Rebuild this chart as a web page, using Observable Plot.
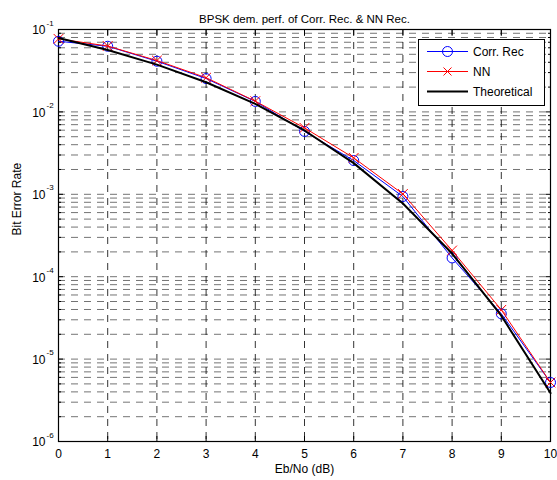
<!DOCTYPE html>
<html>
<head>
<meta charset="utf-8">
<script src="https://cdn.jsdelivr.net/npm/d3@7"></script>
<script src="https://cdn.jsdelivr.net/npm/@observablehq/plot@0.6"></script>
<style>
  html, body { margin: 0; padding: 0; background: #fff; }
  #wrap { position: relative; width: 557px; height: 480px; }
  #legend { position: absolute; left: 0; top: 0; pointer-events: none; }
</style>
</head>
<body>
<div id="wrap"></div>
<script>
// ---- data ----
const ebno = [0, 1, 2, 3, 4, 5, 6, 7, 8, 9, 10];
const berCorr = [0.072, 0.0626, 0.0412, 0.0254, 0.0134, 0.0058, 0.00257, 0.00094, 0.000169, 0.0000355, 0.0000052];
const berNN = [0.077, 0.063, 0.042, 0.026, 0.0135, 0.0064, 0.00277, 0.00101, 0.000208, 0.0000396, 0.0000052];
const berTheory = [0.079, 0.0563, 0.0375, 0.0229, 0.0125, 0.00595, 0.00239, 0.000773, 0.000191, 0.0000336, 0.00000387];
const xTicks = [0, 1, 2, 3, 4, 5, 6, 7, 8, 9, 10];
const yMajor = [1e-1, 1e-2, 1e-3, 1e-4, 1e-5, 1e-6];
const seriesNames = ["Corr. Rec", "NN", "Theoretical"];
const seriesColors = ["#0000ff", "#ff0000", "#000000"];
const titleText = "BPSK dem. perf. of Corr. Rec. & NN Rec.";
const xLabel = "Eb/No (dB)";
const yLabel = "Bit Error Rate";

const rows = (ys) => ebno.map((x, i) => ({x, y: ys[i]}));
const corr = rows(berCorr), nn = rows(berNN), theory = rows(berTheory);

const yAll = d3.scaleLog().domain([1e-6, 1e-1]).ticks();   // 1..9 x each decade
const yMinor = yAll.filter(v => !yMajor.some(m => Math.abs(m - v) / m < 1e-9));
const yGrid = yAll.filter(v => v > 1.0001e-6 && v < 0.0999);
const xGrid = xTicks.slice(1, -1);

const dash = "7,6";
const font = "'Liberation Sans', Arial, Helvetica, sans-serif";

const chart = Plot.plot({
  width: 557,
  height: 480,
  marginLeft: 58,
  marginRight: 7,
  marginTop: 29,
  marginBottom: 39,
  style: {fontFamily: font, fontSize: "12px", background: "#fff", color: "#000"},
  x: {domain: [0, 10], ticks: xTicks, label: null},
  y: {type: "log", domain: [1e-6, 1e-1], label: null},
  marks: [
    // grid
    Plot.ruleY(yGrid, {stroke: "#000", strokeOpacity: 0.55, strokeDasharray: dash}),
    Plot.ruleX(xGrid, {stroke: "#000", strokeOpacity: 0.8, strokeDasharray: dash}),
    // inward ticks (MATLAB style) on all four sides
    Plot.axisX(xTicks, {anchor: "bottom", tickSize: 5, inset: 5, tickFormat: null, text: null, label: null}),
    Plot.axisX(xTicks, {anchor: "top", tickSize: 5, inset: 5, tickFormat: null, text: null, label: null}),
    Plot.axisY(yMajor, {anchor: "left", tickSize: 5, inset: 5, text: null, label: null}),
    Plot.axisY(yMajor, {anchor: "right", tickSize: 5, inset: 5, text: null, label: null}),
    Plot.axisY(yMinor, {anchor: "left", tickSize: 3, inset: 3, text: null, label: null}),
    Plot.axisY(yMinor, {anchor: "right", tickSize: 3, inset: 3, text: null, label: null}),
    // x tick labels
    Plot.axisX(xTicks, {anchor: "bottom", tickSize: 0, tickPadding: 8, fontSize: 12, label: null}),
    // y tick labels 10^n
    Plot.text(yMajor, {y: d => d, frameAnchor: "left", dx: -13, dy: 1, textAnchor: "end", text: () => "10", fontSize: 12}),
    Plot.text(yMajor, {y: d => d, frameAnchor: "left", dx: -12, dy: -6.5, textAnchor: "start", text: d => String(Math.round(Math.log10(d))), fontSize: 8}),
    // frame
    Plot.frame({stroke: "#000", strokeWidth: 1.2}),
    // series
    Plot.line(corr, {x: "x", y: "y", stroke: seriesColors[0], strokeWidth: 1}),
    Plot.dot(corr, {x: "x", y: "y", stroke: seriesColors[0], r: 5, strokeWidth: 1}),
    Plot.line(nn, {x: "x", y: "y", stroke: seriesColors[1], strokeWidth: 1}),
    Plot.dot(nn, {x: "x", y: "y", stroke: seriesColors[1], symbol: "times", r: 4.5, strokeWidth: 1}),
    Plot.line(theory, {x: "x", y: "y", stroke: seriesColors[2], strokeWidth: 2}),
    // title and axis labels
    Plot.text([titleText], {frameAnchor: "top", dy: -15, text: d => d, fontSize: 11.5}),
    Plot.text([xLabel], {frameAnchor: "bottom", dy: 31, text: d => d, fontSize: 12}),
    Plot.text([yLabel], {frameAnchor: "left", dx: -41, rotate: -90, text: d => d, fontSize: 12})
  ]
});

const wrap = document.getElementById("wrap");
wrap.appendChild(chart);

// legend overlay (MATLAB-style box, top-right)
const lg = d3.select(wrap).append("svg").attr("id", "legend")
  .attr("width", 557).attr("height", 480);
const box = {x: 418.5, y: 39.5, w: 126, h: 66};
lg.append("rect").attr("x", box.x).attr("y", box.y).attr("width", box.w).attr("height", box.h)
  .attr("fill", "#fff").attr("stroke", "#000").attr("stroke-width", 1);
seriesNames.forEach((name, i) => {
  const cy = 51.5 + i * 20;
  lg.append("line").attr("x1", 427).attr("x2", 468).attr("y1", cy).attr("y2", cy)
    .attr("stroke", seriesColors[i]).attr("stroke-width", i === 2 ? 2 : 1);
  if (i === 0) lg.append("circle").attr("cx", 447.5).attr("cy", cy).attr("r", 5)
    .attr("fill", "none").attr("stroke", seriesColors[0]);
  if (i === 1) lg.append("path").attr("transform", `translate(447.5,${cy})`)
    .attr("d", "M-4,-4L4,4M-4,4L4,-4").attr("stroke", seriesColors[1]).attr("fill", "none");
  lg.append("text").attr("x", 473).attr("y", cy).attr("dy", "0.35em")
    .attr("font-family", font).attr("font-size", 12).text(name);
});
</script>
</body>
</html>
